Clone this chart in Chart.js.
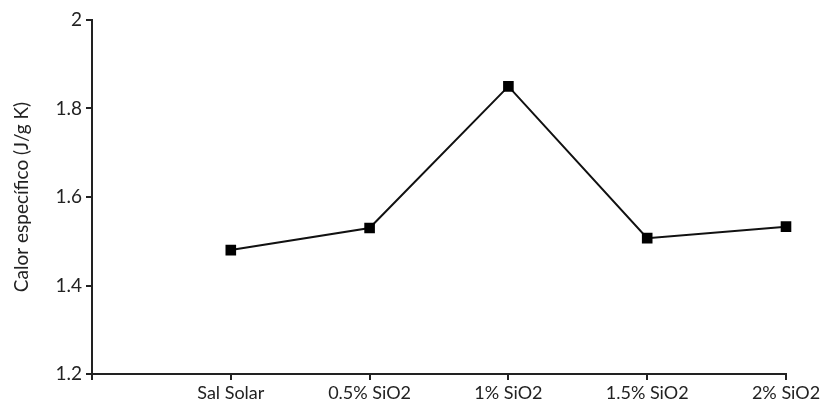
<!DOCTYPE html>
<html>
<head>
<meta charset="utf-8">
<script src="https://cdn.jsdelivr.net/npm/chart.js@4"></script>
<style>
  html, body { margin: 0; padding: 0; background: #fff; }
  #wrap { width: 823px; height: 410px; }
</style>
</head>
<body>
<div id="wrap"><canvas id="calorChart" width="823" height="410"></canvas></div>
<script>
// categorías (la primera vacía queda sobre el eje Y)
const categorias = ['', 'Sal Solar', '0.5% SiO2', '1% SiO2', '1.5% SiO2', '2% SiO2'];
const calorEspecifico = [null, 1.48, 1.53, 1.85, 1.507, 1.533];
const ticksY = [1.2, 1.4, 1.6, 1.8, 2];

const ctx = document.getElementById('calorChart').getContext('2d');
new Chart(ctx, {
    type: 'line',
    data: {
        labels: categorias,
        datasets: [{
            label: 'Calor específico',
            data: calorEspecifico,
            borderColor: '#111',
            borderWidth: 2,
            pointStyle: 'rect',
            pointRadius: 7.5,
            pointBackgroundColor: '#000',
            pointBorderColor: '#000',
            pointBorderWidth: 0,
            tension: 0
        }]
    },
    options: {
        responsive: false,
        animation: false,
        layout: { padding: { top: 20, right: 37, left: 10, bottom: 0 } },
        plugins: { legend: { display: false }, tooltip: { enabled: false } },
        scales: {
            x: {
                offset: false,
                grid: { drawOnChartArea: false, drawTicks: true, tickLength: 6, color: '#222', lineWidth: 2 },
                border: { color: '#222', width: 2 },
                ticks: {
                    color: '#222', padding: 2, maxRotation: 0, autoSkip: false,
                    font: { family: 'Lato', size: 18 }
                },
                afterFit: s => { s.height = 36; }
            },
            y: {
                min: 1.2,
                max: 2,
                afterBuildTicks: s => { s.ticks = ticksY.map(v => ({ value: v })); },
                grid: { drawOnChartArea: false, drawTicks: true, tickLength: 6, color: '#222', lineWidth: 2 },
                border: { color: '#222', width: 2 },
                ticks: {
                    color: '#222', padding: 4,
                    font: { family: 'Lato', size: 19 },
                    callback: v => String(v)
                },
                title: {
                    display: true,
                    text: 'Calor específico (J/g K)',
                    color: '#222',
                    font: { family: 'Lato', size: 19 },
                    padding: { top: 0, bottom: 4 }
                },
                afterFit: s => { s.width = 82; }
            }
        }
    }
});
</script>
</body>
</html>
